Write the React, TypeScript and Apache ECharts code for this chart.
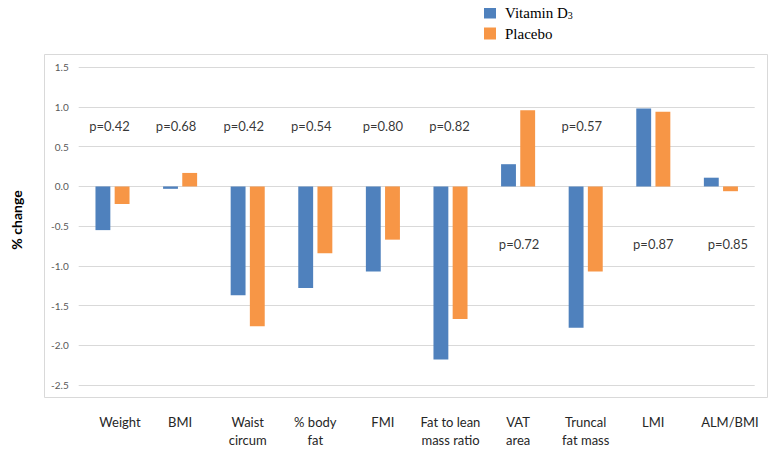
import React, { useEffect, useRef } from "react";
import * as echarts from "echarts";

const categories = [
  "Weight",
  "BMI",
  "Waist\ncircum",
  "% body\nfat",
  "FMI",
  "Fat to lean\nmass ratio",
  "VAT\narea",
  "Truncal\nfat mass",
  "LMI",
  "ALM/BMI",
];
const vitaminD3 = [-0.55, -0.03, -1.37, -1.28, -1.07, -2.18, 0.28, -1.78, 0.98, 0.11];
const placebo = [-0.22, 0.17, -1.76, -0.84, -0.67, -1.67, 0.96, -1.07, 0.94, -0.06];
const pLabels = ["p=0.42", "p=0.68", "p=0.42", "p=0.54", "p=0.80", "p=0.82", "p=0.72", "p=0.57", "p=0.87", "p=0.85"];
const pLabelY = [0.76, 0.76, 0.76, 0.76, 0.76, 0.76, -0.73, 0.76, -0.72, -0.72];
const yTicks = { min: -2.5, max: 1.5, interval: 0.5 };

export default function App() {
  const ref = useRef<HTMLDivElement>(null);
  useEffect(() => {
    if (!ref.current) return;
    const chart = echarts.init(ref.current, undefined, { renderer: "svg" });
    const nudge = [-3, -4, -4, -4, 0, -1, 1, -4, 0, 7];
    const labelShift = [15, 0, 0, 0, 0, 0, 0, 0, 0, 18];
    const xLabelStyle = { fontFamily: "Lato", fontSize: 13, lineHeight: 18, color: "#262626" };
    chart.setOption({
      animation: false,
      backgroundColor: "#ffffff",
      textStyle: { fontFamily: "Lato" },
      graphic: [
        {
          type: "rect",
          shape: { x: 44.5, y: 54.5, width: 723, height: 343 },
          style: { fill: "none", stroke: "#d9d9d9", lineWidth: 1 },
          z: -1,
        },
        {
          type: "text",
          x: 16,
          y: 220,
          rotation: Math.PI / 2,
          style: {
            text: "% change",
            font: "bold 14px Lato",
            fill: "#000000",
            align: "center",
            verticalAlign: "middle",
          },
        },
      ],
      legend: {
        orient: "vertical",
        left: 484,
        top: 5,
        padding: 0,
        icon: "rect",
        itemWidth: 12,
        itemHeight: 12,
        itemGap: 6,
        data: ["Vitamin D3", "Placebo"],
        formatter: (name: string) => (name === "Vitamin D3" ? "Vitamin D{sub|3}" : name),
        textStyle: {
          fontFamily: "Liberation Serif",
          fontSize: 15,
          color: "#000000",
          padding: [0, 0, 0, 4],
          rich: {
            sub: { fontFamily: "Liberation Serif", fontSize: 10, color: "#000000", padding: [5, 0, 0, 0] },
          },
        },
      },
      grid: { left: 78.7, right: 22.3, top: 67.3, bottom: 79 },
      xAxis: {
        type: "category",
        data: categories,
        axisLine: { show: false, onZero: false },
        axisTick: { show: false },
        splitLine: { show: false },
        axisLabel: {
          interval: 0,
          margin: 28,
          ...xLabelStyle,
          formatter: (v: string, i: number) => (labelShift[i] ? `{s${i}|${v}}` : v),
          rich: Object.fromEntries(
            labelShift.map((s, i) => [`s${i}`, { ...xLabelStyle, padding: [0, 0, 0, s] }])
          ),
        },
      },
      yAxis: {
        type: "value",
        min: yTicks.min,
        max: yTicks.max,
        interval: yTicks.interval,
        axisLine: { show: false },
        axisTick: { show: false },
        splitLine: { lineStyle: { color: "#d9d9d9", width: 1 } },
        axisLabel: {
          margin: 10,
          fontFamily: "Lato",
          fontSize: 10,
          color: "#595959",
          formatter: (v: number) => v.toFixed(1),
        },
      },
      series: [
        {
          name: "Vitamin D3",
          type: "bar",
          data: vitaminD3,
          barWidth: "22%",
          barGap: "29%",
          itemStyle: { color: "#4F81BD" },
        },
        {
          name: "Placebo",
          type: "bar",
          data: placebo,
          barWidth: "22%",
          barGap: "29%",
          itemStyle: { color: "#F79646" },
        },
        {
          name: "p",
          type: "scatter",
          symbolSize: 0,
          silent: true,
          z: 10,
          data: categories.map((c, i) => ({
            value: [c, pLabelY[i]],
            label: { offset: [nudge[i], 0] },
          })),
          label: {
            show: true,
            position: "inside",
            formatter: (p: any) => pLabels[p.dataIndex],
            fontFamily: "Lato",
            fontSize: 13,
            color: "#000000",
          },
        },
      ],
    });
    return () => chart.dispose();
  }, []);
  return <div ref={ref} style={{ width: 777, height: 464, margin: -8 }} />;
}
